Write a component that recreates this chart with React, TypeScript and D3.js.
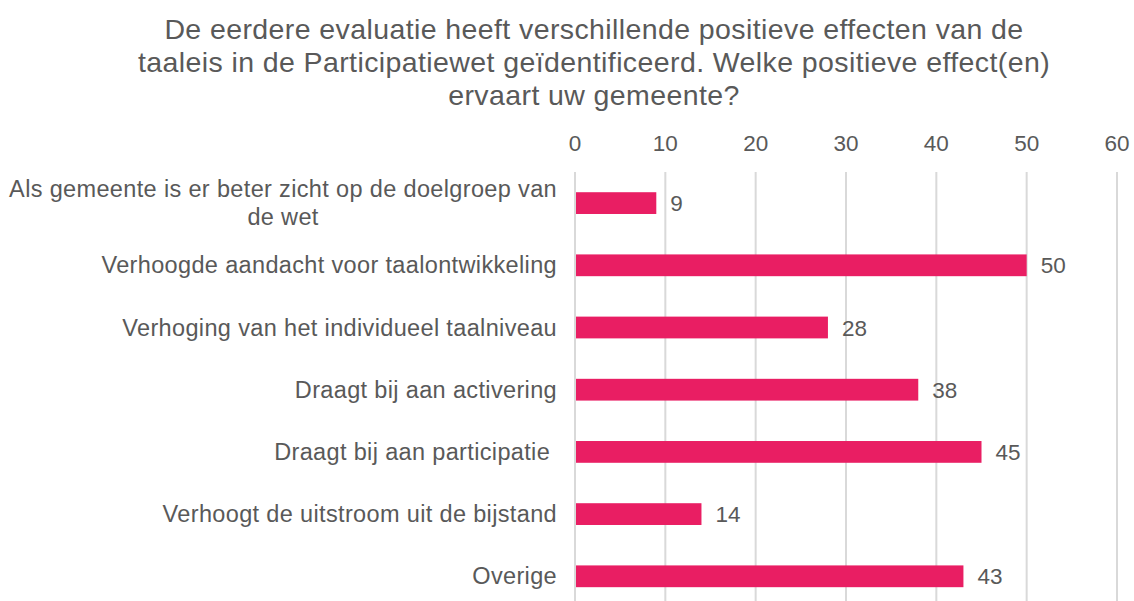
import React, { useEffect, useRef } from 'react';
import * as d3 from 'd3';

const titleLines = [
  'De eerdere evaluatie heeft verschillende positieve effecten van de',
  'taaleis in de Participatiewet geïdentificeerd. Welke positieve effect(en)',
  'ervaart uw gemeente?',
];

const categories = [
  'Als gemeente is er beter zicht op de doelgroep van de wet',
  'Verhoogde aandacht voor taalontwikkeling',
  'Verhoging van het individueel taalniveau',
  'Draagt bij aan activering',
  'Draagt bij aan participatie ',
  'Verhoogt de uitstroom uit de bijstand',
  'Overige',
];

const values = [9, 50, 28, 38, 45, 14, 43];

const ticks = [0, 10, 20, 30, 40, 50, 60];

const W = 1134;
const H = 601;
const FONT = '"Liberation Sans", Arial, sans-serif';
const TEXT = '#595959';
const BAR = '#E91E63';
const GRID = '#D9D9D9';
const LABEL_SIZE = 23.5;
const LABEL_SPACING = 0.35;

const App = () => {
  const svgRef = useRef<SVGSVGElement>(null);

  useEffect(() => {
    drawChart();
  }, []);

  const drawChart = () => {
    const plot = { left: 575, right: 1117, top: 172, bottom: 607.4 };

    const svg = d3.select(svgRef.current);
    svg.selectAll('*').remove();

    const xScale = d3.scaleLinear().domain([0, 60]).range([plot.left, plot.right]);

    const yScale = d3
      .scaleBand()
      .domain(categories)
      .range([plot.top, plot.bottom])
      .paddingInner(0.65)
      .paddingOuter(0.325);

    // title
    svg
      .append('g')
      .selectAll('text')
      .data(titleLines)
      .enter()
      .append('text')
      .attr('x', 594)
      .attr('y', (d, i) => 39 + i * 33)
      .attr('text-anchor', 'middle')
      .attr('font-family', FONT)
      .attr('font-size', 28.5)
      .attr('letter-spacing', 0.4)
      .attr('fill', TEXT)
      .text(d => d);

    // gridlines
    svg
      .append('g')
      .selectAll('line')
      .data(ticks)
      .enter()
      .append('line')
      .attr('x1', d => xScale(d))
      .attr('x2', d => xScale(d))
      .attr('y1', plot.top)
      .attr('y2', H)
      .attr('stroke', GRID)
      .attr('stroke-width', 2);

    // tick labels on top
    svg
      .append('g')
      .selectAll('text')
      .data(ticks)
      .enter()
      .append('text')
      .attr('x', d => xScale(d))
      .attr('y', 151)
      .attr('text-anchor', 'middle')
      .attr('font-family', FONT)
      .attr('font-size', 22.5)
      .attr('fill', TEXT)
      .text(d => d);

    // bars
    svg
      .append('g')
      .selectAll('rect')
      .data(values)
      .enter()
      .append('rect')
      .attr('x', xScale(0) + 1)
      .attr('y', (d, i) => yScale(categories[i]))
      .attr('width', d => xScale(d) - xScale(0) - 1)
      .attr('height', yScale.bandwidth())
      .attr('fill', BAR);

    // value labels
    svg
      .append('g')
      .selectAll('text')
      .data(values)
      .enter()
      .append('text')
      .attr('x', d => xScale(d) + 14)
      .attr('y', (d, i) => yScale(categories[i]) + yScale.bandwidth() / 2 + 8)
      .attr('font-family', FONT)
      .attr('font-size', 22.5)
      .attr('fill', TEXT)
      .text(d => d);

    // category labels, wrapped when too wide
    const labelRight = 557;
    const maxWidth = 552;
    const lineHeight = 27.6;
    const labels = svg.append('g');

    const measure = (s: string) => {
      const t = labels
        .append('text')
        .attr('font-family', FONT)
        .attr('font-size', LABEL_SIZE)
        .attr('letter-spacing', LABEL_SPACING)
        .style('white-space', 'pre')
        .text(s);
      const len = (t.node() as SVGTextElement).getComputedTextLength();
      t.remove();
      return len;
    };

    categories.forEach(cat => {
      const cy = yScale(cat) + yScale.bandwidth() / 2;

      let lines = [cat];
      if (measure(cat) > maxWidth) {
        lines = [];
        let cur = '';
        cat.split(' ').forEach(w => {
          const test = cur ? cur + ' ' + w : w;
          if (measure(test) > maxWidth && cur) {
            lines.push(cur);
            cur = w;
          } else {
            cur = test;
          }
        });
        if (cur) lines.push(cur);
      }

      const centerX = labelRight - measure(lines[0]) / 2;
      const y0 = cy + 8 - ((lines.length - 1) * lineHeight) / 2;

      lines.forEach((ln, i) => {
        labels
          .append('text')
          .attr('x', lines.length > 1 ? centerX : labelRight)
          .attr('y', y0 + i * lineHeight)
          .attr('text-anchor', lines.length > 1 ? 'middle' : 'end')
          .attr('font-family', FONT)
          .attr('font-size', LABEL_SIZE)
          .attr('letter-spacing', LABEL_SPACING)
          .attr('fill', TEXT)
          .style('white-space', 'pre')
          .text(ln);
      });
    });
  };

  return (
    <svg
      ref={svgRef}
      width={W}
      height={H}
      style={{ position: 'absolute', left: 0, top: 0, background: '#fff' }}
    ></svg>
  );
};

export default App;
